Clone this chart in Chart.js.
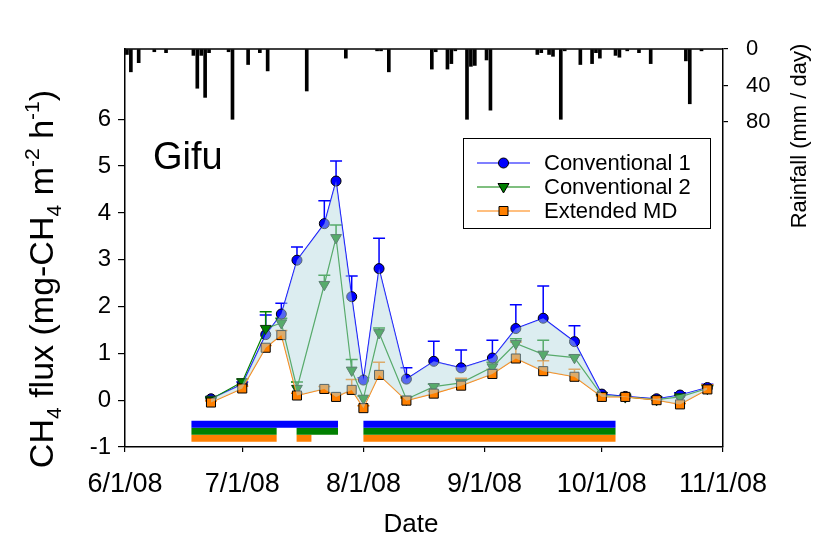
<!DOCTYPE html>
<html>
<head>
<meta charset="utf-8">
<script src="https://cdn.jsdelivr.net/npm/chart.js@4.4.1/dist/chart.umd.min.js"></script>
<style>
  html, body { margin: 0; padding: 0; background: #fff; }
  #wrap { width: 825px; height: 545px; }
</style>
</head>
<body>
<div id="wrap"><canvas id="gifuChart"></canvas></div>
<script>
// all x values are days counted from 6/1/08
const sampleDays = [22, 30, 36, 40, 44, 51, 54, 58, 61, 65, 72, 79, 86, 94, 100, 107, 115, 122, 128, 136, 142, 149];
const conv1 = [0.03, 0.34, 1.40, 1.84, 2.99, 3.77, 4.68, 2.21, 0.43, 2.81, 0.45, 0.83, 0.69, 0.90, 1.53, 1.75, 1.25, 0.13, 0.08, 0.03, 0.11, 0.27];
const conv1Err = [0.04, 0.05, 0.42, 0.23, 0.28, 0.49, 0.43, 0.44, 0.05, 0.65, 0.24, 0.43, 0.38, 0.38, 0.51, 0.69, 0.34, 0.03, 0.03, 0.03, 0.05, 0.07];
const conv2 = [0.02, 0.39, 1.53, 1.65, 0.25, 2.47, 3.47, 0.64, 0.04, 1.44, 0.02, 0.29, 0.37, 0.71, 1.21, 0.98, 0.91, 0.10, 0.07, 0.01, 0.07, 0.25];
const conv2Err = [0.03, 0.06, 0.36, 0.10, 0.14, 0.20, 0.27, 0.23, 0.05, 0.10, 0.05, 0.05, 0.08, 0.10, 0.10, 0.30, 0.05, 0.02, 0.02, 0.02, 0.03, 0.06];
const extMD = [-0.05, 0.25, 1.12, 1.39, 0.10, 0.24, 0.07, 0.22, -0.17, 0.54, -0.01, 0.14, 0.31, 0.56, 0.89, 0.62, 0.50, 0.07, 0.07, 0.00, -0.09, 0.23];
const extMDErr = [0.03, 0.05, 0.05, 0.10, 0.05, 0.05, 0.05, 0.22, 0.05, 0.27, 0.05, 0.05, 0.16, 0.10, 0.35, 0.22, 0.16, 0.02, 0.02, 0.02, 0.02, 0.10];

const rainDays = [0, 1, 3, 7, 10, 17, 18, 19, 20, 21, 26, 27, 31, 34, 36, 46, 56, 64, 65, 67, 78, 79, 82, 83, 84, 87, 88, 89, 92, 93, 105, 106, 108, 109, 111, 112, 116, 119, 120, 121, 125, 126, 128, 131, 134, 143, 144, 147];
const rainMm = [6, 25, 15, 3, 4, 7, 43, 7, 53, 4, 3, 77, 17, 4, 24, 46, 10, 2, 2, 25, 22, 3, 22, 16, 2, 77, 19, 18, 12, 67, 6, 4, 6, 8, 77, 2, 17, 16, 4, 10, 7, 9, 2, 4, 16, 13, 60, 2];

// flooded periods (start day, end day)
const floodConv1 = [[17, 54.5], [61, 125.5]];
const floodConv2 = [[17, 38.8], [43.9, 54.5], [61, 125.5]];
const floodExt = [[17, 38.8], [43.9, 47.7], [61, 125.5]];

const xTickDays = [0, 30, 61, 92, 122, 153];
const xTickLabels = ['6/1/08', '7/1/08', '8/1/08', '9/1/08', '10/1/08', '11/1/08'];
const fluxTicks = [-1, 0, 1, 2, 3, 4, 5, 6];
const rainTicks = [0, 40, 80];

const FONT = "'Liberation Sans', Arial, sans-serif";
const BLUE = '#0000ff', GREEN = '#008000', ORANGE = '#ff8000';

Chart.defaults.font.family = FONT;
Chart.defaults.color = '#000';

const pts = vals => vals.map((v, i) => ({ x: sampleDays[i], y: v }));

function floodLine(segs, level) {
  const out = [];
  segs.forEach(s => {
    out.push({ x: s[0], y: level }, { x: s[1], y: level }, { x: s[1], y: null });
  });
  return out;
}

function floodSet(segs, level, color) {
  return {
    type: 'line', data: floodLine(segs, level), borderColor: color, borderWidth: 7,
    borderCapStyle: 'butt', pointRadius: 0, spanGaps: false, fill: false, order: 4
  };
}

// error bars, drawn under the lines and the shaded band
const errorBars = {
  id: 'errorBars',
  beforeDatasetsDraw(chart) {
    const { ctx, scales: { x, y } } = chart;
    const groups = [[conv1, conv1Err, BLUE], [conv2, conv2Err, GREEN], [extMD, extMDErr, ORANGE]];
    ctx.save();
    ctx.lineWidth = 1.5;
    groups.forEach(([vals, errs, color]) => {
      ctx.strokeStyle = color;
      vals.forEach((v, i) => {
        const px = x.getPixelForValue(sampleDays[i]);
        const y0 = y.getPixelForValue(v);
        const y1 = y.getPixelForValue(v + errs[i]);
        ctx.beginPath();
        ctx.moveTo(px, y0); ctx.lineTo(px, y1);
        ctx.moveTo(px - 6, y1); ctx.lineTo(px + 6, y1);
        ctx.stroke();
      });
    });
    ctx.restore();
  }
};

function drawMarker(ctx, kind, x, y) {
  ctx.beginPath();
  if (kind === 'circle') {
    ctx.fillStyle = BLUE; ctx.arc(x, y, 5, 0, Math.PI * 2);
  } else if (kind === 'tri') {
    ctx.fillStyle = GREEN;
    ctx.moveTo(x - 5.5, y - 3.5); ctx.lineTo(x + 5.5, y - 3.5); ctx.lineTo(x, y + 6); ctx.closePath();
  } else {
    ctx.fillStyle = ORANGE; ctx.rect(x - 4.5, y - 4.5, 9, 9);
  }
  ctx.fill();
  ctx.strokeStyle = '#000'; ctx.lineWidth = 1;
  ctx.stroke();
}

function drawRich(ctx, parts, size, cx, cy, angle) {
  let total = 0;
  parts.forEach(p => {
    p.fs = p.s ? size * 0.62 : size;
    ctx.font = p.fs + 'px ' + FONT;
    p.w = ctx.measureText(p.t).width;
    total += p.w;
  });
  ctx.save();
  ctx.translate(cx, cy);
  ctx.rotate(angle);
  ctx.textAlign = 'left';
  ctx.textBaseline = 'alphabetic';
  let xx = -total / 2;
  parts.forEach(p => {
    const dy = p.s === 'sub' ? size * 0.24 : p.s === 'sup' ? -size * 0.42 : 0;
    ctx.font = p.fs + 'px ' + FONT;
    ctx.fillText(p.t, xx, dy);
    xx += p.w;
  });
  ctx.restore();
}

const decorations = {
  id: 'decorations',
  afterDraw(chart) {
    const { ctx, chartArea: a } = chart;
    ctx.save();
    // top frame line
    ctx.strokeStyle = '#000'; ctx.lineWidth = 1.5;
    ctx.beginPath(); ctx.moveTo(a.left, a.top); ctx.lineTo(a.right, a.top); ctx.stroke();

    ctx.fillStyle = '#000';
    ctx.font = '38px ' + FONT;
    ctx.textAlign = 'left'; ctx.textBaseline = 'alphabetic';
    ctx.fillText('Gifu', 153, 169);

    // legend
    ctx.lineWidth = 1; ctx.strokeStyle = '#000';
    ctx.strokeRect(463.5, 138.5, 247, 90);
    const rows = [['Conventional 1', BLUE, 'circle'], ['Conventional 2', GREEN, 'tri'], ['Extended MD', ORANGE, 'rect']];
    rows.forEach((r, i) => {
      const yy = 163 + i * 24;
      ctx.strokeStyle = r[1]; ctx.lineWidth = 1.2;
      ctx.beginPath(); ctx.moveTo(477, yy); ctx.lineTo(530, yy); ctx.stroke();
      drawMarker(ctx, r[2], 503.5, yy);
      ctx.fillStyle = '#000';
      ctx.font = '22px ' + FONT;
      ctx.textBaseline = 'middle';
      ctx.fillText(r[0], 544, yy + 1);
    });

    // axis titles
    ctx.textAlign = 'center'; ctx.textBaseline = 'middle';
    ctx.font = '26px ' + FONT;
    ctx.fillText('Date', 411, 525);

    drawRich(ctx, [
      { t: 'CH' }, { t: '4', s: 'sub' }, { t: ' flux (mg-CH' }, { t: '4', s: 'sub' },
      { t: ' m' }, { t: '-2', s: 'sup' }, { t: ' h' }, { t: '-1', s: 'sup' }, { t: ')' }
    ], 34, 53, 279, -Math.PI / 2);

    drawRich(ctx, [{ t: 'Rainfall (mm / day)' }], 22, 806, 136, -Math.PI / 2);
    ctx.restore();
  }
};

const tickGrid = len => ({ display: true, drawOnChartArea: false, drawTicks: true, tickLength: len, color: '#000', lineWidth: 1.2 });
const axisBorder = { display: true, color: '#000', width: 1.5 };

new Chart(document.getElementById('gifuChart'), {
  type: 'line',
  data: {
    datasets: [
      {
        label: 'band', data: pts(conv1), borderColor: 'rgba(0,0,0,0)', borderWidth: 0,
        pointRadius: 0, fill: { target: 1 }, backgroundColor: 'rgba(182,218,224,0.48)', order: 0
      },
      {
        label: 'Extended MD', data: pts(extMD), borderColor: ORANGE, borderWidth: 1.2,
        pointStyle: 'rect', pointRadius: 6.4, pointBackgroundColor: ORANGE,
        pointBorderColor: '#000', pointBorderWidth: 1, fill: false, order: 1
      },
      {
        label: 'Conventional 2', data: pts(conv2), borderColor: GREEN, borderWidth: 1.2,
        pointStyle: 'triangle', rotation: 180, pointRadius: 6.2, pointBackgroundColor: GREEN,
        pointBorderColor: '#103010', pointBorderWidth: 1, fill: false, order: 2
      },
      {
        label: 'Conventional 1', data: pts(conv1), borderColor: BLUE, borderWidth: 1.2,
        pointStyle: 'circle', pointRadius: 5, pointBackgroundColor: BLUE,
        pointBorderColor: '#000', pointBorderWidth: 1, fill: false, order: 3
      },
      floodSet(floodConv1, -0.515, BLUE),
      floodSet(floodConv2, -0.665, GREEN),
      floodSet(floodExt, -0.815, ORANGE),
      {
        type: 'bar', label: 'Rainfall', yAxisID: 'yR',
        data: rainDays.map((d, i) => ({ x: d + 0.5, y: rainMm[i] })),
        backgroundColor: '#000', barThickness: 3, order: 5
      }
    ]
  },
  options: {
    responsive: true,
    maintainAspectRatio: false,
    animation: false,
    events: [],
    layout: { padding: { top: 49, left: 0, right: 0, bottom: 0 } },
    elements: { line: { tension: 0 } },
    plugins: {
      legend: { display: false },
      tooltip: { enabled: false },
      filler: { drawTime: 'beforeDatasetDraw' }
    },
    scales: {
      x: {
        type: 'linear', min: 0, max: 153, offset: false,
        afterBuildTicks: s => { s.ticks = xTickDays.map(v => ({ value: v })); },
        afterFit: s => { s.height = 98; },
        ticks: { callback: (v, i) => xTickLabels[i], font: { size: 27 }, padding: 16, maxRotation: 0 },
        grid: Object.assign(tickGrid(5), { offset: false }),
        border: axisBorder
      },
      y: {
        type: 'linear', position: 'left', min: -1, max: 7.5,
        afterBuildTicks: s => { s.ticks = fluxTicks.map(v => ({ value: v })); },
        afterFit: s => { s.width = 125; },
        ticks: { font: { size: 24 }, padding: 7 },
        grid: tickGrid(7),
        border: axisBorder
      },
      yR: {
        type: 'linear', position: 'right', min: 0, max: 436, reverse: true,
        afterBuildTicks: s => { s.ticks = rainTicks.map(v => ({ value: v })); },
        afterFit: s => { s.width = 102; },
        ticks: { font: { size: 22 }, padding: 18 },
        grid: tickGrid(5),
        border: axisBorder
      }
    }
  },
  plugins: [errorBars, decorations]
});
</script>
</body>
</html>
